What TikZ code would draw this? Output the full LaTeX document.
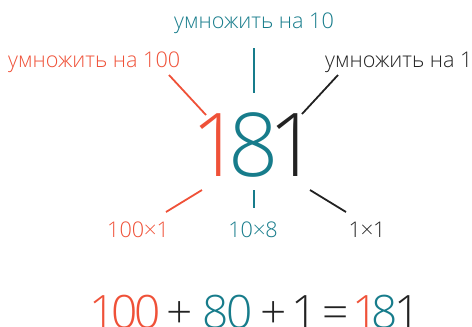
\documentclass[tikz,border=0pt]{standalone}
\usepackage{fontspec}
\setmainfont{Open Sans}[UprightFont={* Light}]
\definecolor{cred}{HTML}{EF5138}
\definecolor{cteal}{HTML}{177C8B}
\definecolor{cdark}{HTML}{222222}
\begin{document}
\begin{tikzpicture}[x=1pt,y=-1pt,
  lbl/.style={inner sep=0pt,anchor=base,font=\fontsize{21.6}{22}\selectfont},
  big/.style={inner sep=0pt,anchor=base,font=\fontsize{88}{88}\selectfont},
  eq/.style={inner sep=0pt,anchor=base,font=\fontsize{46}{46}\selectfont},
  link/.style={line width=1.8pt}]
\useasboundingbox (0,0) rectangle (472,327);
% top labels
\node[lbl,text=cteal] (t10) at (254,28) {умножить на 10};
\node[lbl,text=cred,anchor=base west] (t100) at (8,67) {умножить на 100};
\node[lbl,text=cdark,anchor=base west] (t1) at (325,67) {умножить на 1};
% big number
\node[big,text=cred] (d1) at (217,176) {1};
\node[big,text=cteal] (d8) at (254,176) {8};
\node[big,text=cdark] (d3) at (294,176) {1};
% bottom labels
\node[lbl,text=cred] (b100) at (138,237) {100×1};
\node[lbl,text=cteal] (b10) at (253,237) {10×8};
\node[lbl,text=cdark] (b1) at (367,237) {1×1};
% equation
\node[eq,text=cred] (e1) at (103,328) {1};
\node[eq,text=cred] (e2) at (125,328) {0};
\node[eq,text=cred] (e3) at (148,328) {0};
\node[eq,text=cdark] (e4) at (180,328) {+};
\node[eq,text=cteal] (e5) at (216,328) {8};
\node[eq,text=cteal] (e6) at (240,328) {0};
\node[eq,text=cdark] (e7) at (274,328) {+};
\node[eq,text=cdark] (e8) at (304.5,328) {1};
\node[eq,text=cdark] (e9) at (336,328) {=};
\node[eq,text=cred] (e10) at (366,328) {1};
\node[eq,text=cteal] (e11) at (384.5,328) {8};
\node[eq,text=cdark] (e12) at (407.5,328) {1};
% connector endpoints
\coordinate (r1) at (169,75); \coordinate (r2) at (206,115);
\coordinate (m1) at (254,48); \coordinate (m2) at (254,93);
\coordinate (k1) at (338,75); \coordinate (k2) at (302,114);
\coordinate (r3) at (202,190); \coordinate (r4) at (166,212);
\coordinate (m3) at (254,190); \coordinate (m4) at (254,208);
\coordinate (k3) at (310,190); \coordinate (k4) at (346,212);
\draw[link,cred] (r1) -- (r2);
\draw[link,cteal] (m1) -- (m2);
\draw[link,cdark] (k1) -- (k2);
\draw[link,cred] (r3) -- (r4);
\draw[link,cteal] (m3) -- (m4);
\draw[link,cdark] (k3) -- (k4);
\end{tikzpicture}
\end{document}
